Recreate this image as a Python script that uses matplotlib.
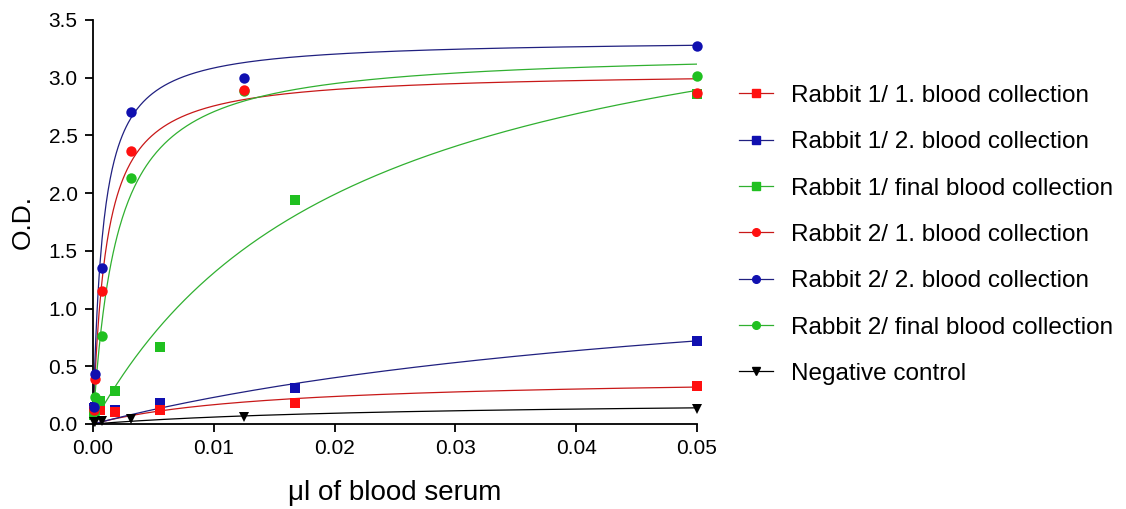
import numpy as np
import matplotlib.pyplot as plt

plt.rcParams['font.family'] = ['Liberation Sans', 'DejaVu Sans']

# serum volumes (ul)
x_r1 = [0.05, 0.0167, 0.00556, 0.00185, 0.000617, 0.000206, 0.0000686]
x_r2 = [0.05, 0.0125, 0.003125, 0.00078, 0.000195, 0.0000488]

# measured O.D.
r1_b1 = [0.33, 0.18, 0.12, 0.10, 0.12, 0.13, 0.11]
r1_b2 = [0.72, 0.31, 0.18, 0.12, 0.13, 0.15, 0.14]
r1_fin = [2.86, 1.94, 0.67, 0.29, 0.20, 0.12, 0.08]
r2_b1 = [2.87, 2.89, 2.36, 1.15, 0.39, 0.12]
r2_b2 = [3.27, 3.00, 2.70, 1.35, 0.43, 0.15]
r2_fin = [3.01, 2.88, 2.13, 0.76, 0.23, 0.08]
neg = [0.13, 0.06, 0.04, 0.03, 0.02, 0.02]

# fitted one-site binding curves: Bmax, Kd
fit_bmax = [0.4145, 1.532, 4.14, 3.055, 3.333, 3.24, 0.21]
fit_kd = [0.01477, 0.0564, 0.02164, 0.00109, 0.00081, 0.00198, 0.025]

labels = ['Rabbit 1/ 1. blood collection', 'Rabbit 1/ 2. blood collection',
          'Rabbit 1/ final blood collection', 'Rabbit 2/ 1. blood collection',
          'Rabbit 2/ 2. blood collection', 'Rabbit 2/ final blood collection',
          'Negative control']
xs = [x_r1, x_r1, x_r1, x_r2, x_r2, x_r2, x_r2]
ys = [r1_b1, r1_b2, r1_fin, r2_b1, r2_b2, r2_fin, neg]
markers = ['s', 's', 's', 'o', 'o', 'o', 'v']
mcolors = ['#ff1010', '#1010b0', '#20c020', '#ff1010', '#1010b0', '#20c020', 'black']
lcolors = ['#c81818', '#202080', '#30b030', '#c81818', '#202080', '#30b030', 'black']

fig = plt.figure(figsize=(11.26, 5.09), dpi=100)
ax = fig.add_axes([0.0826, 0.167, 0.5364, 0.794])

xx = np.linspace(0, 0.05, 600)
handles = []
for i in range(7):
    yy = fit_bmax[i] * xx / (fit_kd[i] + xx)
    ax.plot(xx, yy, '-', color=lcolors[i], lw=0.9)
# squares first, then circles so the overlaps look like the original
for i in [1, 0, 2, 5, 3, 4, 6]:
    ax.plot(xs[i], ys[i], markers[i], color=mcolors[i], ms=7.5, mew=0, clip_on=False, zorder=3)
for i in range(7):
    h, = ax.plot([], [], '-', marker=markers[i], color=lcolors[i], mfc=mcolors[i],
                 mec=mcolors[i], ms=5.5, lw=0.9)
    handles.append(h)

ax.set_xlim(0, 0.05)
ax.set_ylim(0, 3.5)
ax.set_xticks([0, 0.01, 0.02, 0.03, 0.04, 0.05])
ax.set_xticklabels(['0.00', '0.01', '0.02', '0.03', '0.04', '0.05'])
ax.set_yticks(np.arange(0, 3.6, 0.5))
ax.set_yticklabels(['0.0', '0.5', '1.0', '1.5', '2.0', '2.5', '3.0', '3.5'])
ax.spines['top'].set_visible(False)
ax.spines['right'].set_visible(False)
ax.spines['left'].set_linewidth(1.3)
ax.spines['bottom'].set_linewidth(1.3)
ax.tick_params(direction='out', length=6, width=1.3, labelsize=15, pad=5)
ax.set_xlabel('μl of blood serum', fontsize=20, labelpad=16)
ax.set_ylabel('O.D.', fontsize=19, labelpad=10)

fig.legend(handles, labels, loc='upper left', bbox_to_anchor=(0.6368, 0.876),
           frameon=False, fontsize=17.5, handlelength=1.4, labelspacing=1.0,
           handletextpad=0.76)

fig.savefig('out.png', dpi=100)
